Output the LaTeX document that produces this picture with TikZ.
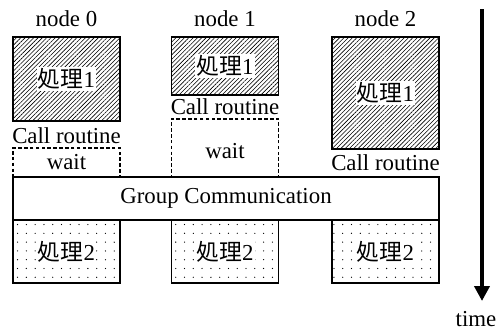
\documentclass[tikz,border=0pt]{standalone}
\usepackage{fontspec}
\setmainfont{Liberation Serif}
\newfontfamily\jpfont{Noto Sans CJK JP}
\usetikzlibrary{calc}
\usetikzlibrary{patterns.meta}
\usetikzlibrary{arrows.meta}
\newcommand{\shori}[1]{{\jpfont 処理}#1}

\begin{document}
\begin{tikzpicture}[x=0.03cm, y=-0.03cm, font=\fontsize{19.5}{23}\selectfont]
            \tikzstyle{box} = [draw, line width=1.5pt, inner sep=0, minimum width=3.21cm]
            \tikzstyle{first} = [box, pattern={Lines[angle=45, distance=2.6pt, line width=0.5pt]}]
            \tikzstyle{second} = [box, minimum height=1.89cm, pattern={Dots[distance=7.5pt, radius=0.55pt]}]
            \tikzstyle{waitbox} = [box, line width=1.2pt, dash pattern=on 3pt off 2pt]
            \tikzstyle{tag} = [fill=white, inner sep=1pt]

            \useasboundingbox (0, 0) rectangle (499, 330);

            % processing 1
            \node[first, minimum height=2.52cm] (p0) at (66.5, 79) {};
            \node[first, minimum height=1.74cm] (p1) at (225, 66) {};
            \node[first, minimum height=3.36cm] (p2) at (385.5, 93) {};
            \node[tag] at (p0) {\shori{1}};
            \node[tag] at (p1) {\shori{1}};
            \node[tag] at (p2) {\shori{1}};

            \node (n0) at (66.5, 19) {node 0};
            \node (n1) at (225, 19) {node 1};
            \node (n2) at (385.5, 19) {node 2};

            \node (c0) at ($(p0.south) + (0, 14)$) {Call routine};
            \node (c1) at ($(p1.south) + (0, 11)$) {Call routine};
            \node (c2) at ($(p2.south) + (0, 13)$) {Call routine};

            % waiting
            \node[waitbox, minimum height=0.87cm] (w0) at (66.5, 162.5) {wait};
            \node[waitbox, minimum height=1.74cm] (w1) at (225, 148) {};
            \node (w1t) at (225, 151) {wait};

            % communication and processing 2
            \node[box, fill=white, minimum width=12.78cm, minimum height=1.29cm] (gc) at (226, 198.5) {Group Communication};
            \node[second] (q0) at (66.5, 251.5) {};
            \node[second] (q1) at (225, 251.5) {};
            \node[second] (q2) at (385.5, 251.5) {};
            \node[tag] at (q0) {\shori{2}};
            \node[tag] at (q1) {\shori{2}};
            \node[tag] at (q2) {\shori{2}};

            % time axis
            \coordinate (t0) at (482, 9);
            \coordinate (t1) at (482, 301);
            \node (time) at (476, 319) {time};
            \draw[line width=3.4pt, -{Triangle[width=0.45cm, length=0.45cm]}] (t0) -- (t1);
        \end{tikzpicture}
\end{document}
